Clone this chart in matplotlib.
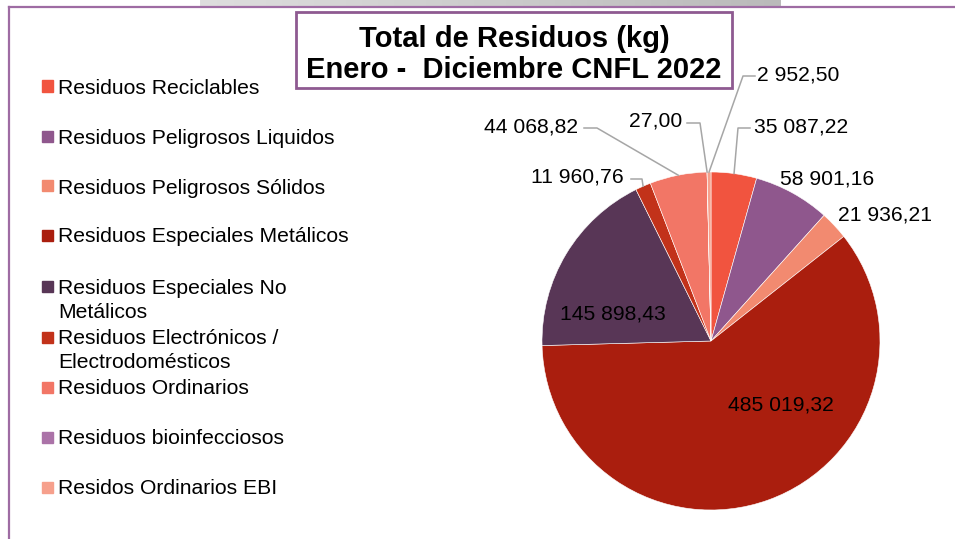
import numpy as np
import matplotlib.pyplot as plt
from matplotlib.patches import Rectangle
from matplotlib.lines import Line2D
from matplotlib.colors import LinearSegmentedColormap

plt.rcParams['font.family'] = ['Liberation Sans', 'DejaVu Sans']

# datos del grafico
categorias = [
    "Residuos Reciclables",
    "Residuos Peligrosos Liquidos",
    "Residuos Peligrosos Sólidos",
    "Residuos Especiales Metálicos",
    "Residuos Especiales No\nMetálicos",
    "Residuos Electrónicos /\nElectrodomésticos",
    "Residuos Ordinarios",
    "Residuos bioinfecciosos",
    "Residos Ordinarios EBI",
]
valores = [35087.22, 58901.16, 21936.21, 485019.32, 145898.43,
           11960.76, 44068.82, 27.00, 2952.50]
colores = ['#F1543F', '#8F578D', '#F28A70', '#AA1E0E', '#583656',
           '#C2321A', '#F27666', '#AB73A8', '#F6A08C']
titulo = ["Total de Residuos (kg)", "Enero -  Diciembre CNFL 2022"]

W, H = 955, 539
fig = plt.figure(figsize=(W / 100, H / 100), dpi=100)


def fx(px):
    return px / W


def fy(py):
    return 1 - py / H


def fmt(v):
    return f"{v:,.2f}".replace(",", " ").replace(".", ",")


# barra gris superior
gax = fig.add_axes([fx(200), fy(6), fx(780) - fx(200), 6 / H])
gax.imshow(np.linspace(0, 1, 256).reshape(1, -1), aspect='auto',
           cmap=LinearSegmentedColormap.from_list('g', ['#dedede', '#bababa']))
gax.axis('off')

# marco exterior
marco = '#9E6CA3'
fig.add_artist(Line2D([fx(9), 1], [fy(7), fy(7)], color=marco, lw=1.6, transform=fig.transFigure))
fig.add_artist(Line2D([fx(9), fx(9)], [fy(7), 0], color=marco, lw=1.6, transform=fig.transFigure))

# pastel
cx, cy, r = 711, 341, 169
ax = fig.add_axes([fx(cx - r), fy(cy + r), 2 * r / W, 2 * r / H])
wedges, _ = ax.pie(valores, colors=colores, startangle=90, counterclock=False,
                   radius=1, wedgeprops=dict(edgecolor='white', linewidth=0.4))
ax.set_xlim(-1, 1)
ax.set_ylim(-1, 1)
ax.axis('off')


def d(px, py):
    return (px - cx) / r, (cy - py) / r


# posicion de etiquetas (pixeles) y guias
etiq_pos = [(754, 125, 'left'), (780, 177, 'left'), (838, 213, 'left'),
            (781, 403, 'center'), (613, 312, 'center'), (624, 175, 'right'),
            (578, 125, 'right'), (682, 119, 'right'), (757, 73, 'left')]
guias = {0: [(750, 128), (738, 128)],
         5: [(631, 179), (642, 179)],
         6: [(584, 128), (597, 128)],
         7: [(687, 123), (700, 123)],
         8: [(755, 76), (743, 76)]}

for i, (w, v) in enumerate(zip(wedges, valores)):
    px, py, ha = etiq_pos[i]
    tx, ty = d(px, py)
    ax.text(tx, ty, fmt(v), ha=ha, va='center_baseline', fontsize=15.2,
            color='black', clip_on=False)
    if i in guias:
        mid = np.deg2rad((w.theta1 + w.theta2) / 2)
        pts = [d(*p) for p in guias[i]] + [(np.cos(mid), np.sin(mid))]
        xs, ys = zip(*pts)
        ax.plot(xs, ys, color='#a6a6a6', lw=1.1, clip_on=False)

# leyenda
ley_y = [86, 136, 186, 235, 286, 337, 387, 437, 487]
for nombre, col, y in zip(categorias, colores, ley_y):
    fig.add_artist(Rectangle((fx(42), fy(y + 5.5)), 11 / W, 11 / H,
                             transform=fig.transFigure, color=col))
    for k, linea in enumerate(nombre.split("\n")):
        fig.text(fx(58), fy(y + k * 24), linea, ha='left', va='center_baseline',
                 fontsize=15.2, color='black')

# titulo
fig.add_artist(Rectangle((fx(296), fy(88)), (732 - 296) / W, (88 - 12) / H,
                         transform=fig.transFigure, facecolor='white',
                         edgecolor='#8E5A91', lw=2))
fig.text(fx(514), fy(36), titulo[0], ha='center', va='center_baseline',
         fontsize=21, fontweight='bold')
fig.text(fx(514), fy(67), titulo[1], ha='center', va='center_baseline',
         fontsize=21, fontweight='bold')

fig.savefig('out.png', dpi=100, facecolor='white')
